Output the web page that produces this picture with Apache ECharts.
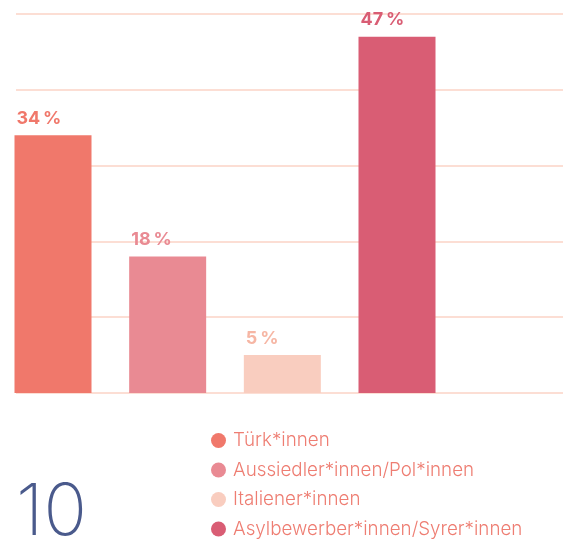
<!DOCTYPE html>
<html>
<head>
<meta charset="utf-8">
<script src="https://cdn.jsdelivr.net/npm/echarts@6/dist/echarts.min.js"></script>
<style>
  html, body { margin: 0; padding: 0; background: #fff; }
  #chart { width: 563px; height: 539px; }
</style>
</head>
<body>
<div id="chart"></div>
<script>
const categories = ['Türk*innen', 'Aussiedler*innen/Pol*innen', 'Italiener*innen', 'Asylbewerber*innen/Syrer*innen']
const values = [34, 18, 5, 47]
const colors = ['#f0786b', '#e98a93', '#f9cdbf', '#d95d74']
const labelColors = ['#f0786b', '#e98a93', '#f6b6a4', '#d95d74']
const yTicks = [0, 10, 20, 30, 40, 50]
const pageNumber = '10'

const chart = echarts.init(document.getElementById('chart'))

// each category is its own series so the legend shows all four
const series = categories.map((name, i) => ({
  name: name,
  type: 'bar',
  xAxisIndex: 1,
  yAxisIndex: 1,
  stack: 'all',
  barWidth: 77,
  itemStyle: { color: colors[i] },
  label: {
    show: true,
    position: [2, -26],
    formatter: p => p.value + '\u2009%',
    color: labelColors[i],
    fontFamily: 'Inter',
    fontWeight: 'bold',
    fontSize: 18
  },
  data: values.map((v, j) => (j === i ? v : '-'))
}))

const option = {
  animation: false,
  grid: [
    { left: 16, right: 0, top: 14, bottom: 146 },
    { left: 53, right: 166, top: 14, bottom: 146 }
  ],
  xAxis: [
    { gridIndex: 0, type: 'value', min: 0, max: 1, show: false },
    {
      gridIndex: 1,
      type: 'category',
      data: categories,
      boundaryGap: false,
      show: false
    }
  ],
  yAxis: [
    {
      gridIndex: 0,
      type: 'value',
      min: yTicks[0],
      max: yTicks[yTicks.length - 1],
      interval: 10,
      axisLabel: { show: false },
      axisLine: { show: false },
      axisTick: { show: false },
      splitLine: { lineStyle: { color: '#fbd3c6', width: 1.5 } }
    },
    {
      gridIndex: 1,
      type: 'value',
      min: yTicks[0],
      max: yTicks[yTicks.length - 1],
      show: false,
      splitLine: { show: false }
    }
  ],
  legend: {
    orient: 'vertical',
    left: 206,
    top: 426,
    height: 130,
    icon: 'circle',
    itemWidth: 15,
    itemHeight: 15,
    itemGap: 10.5,
    data: categories,
    textStyle: {
      color: '#ee7d72',
      fontFamily: 'Inter',
      fontWeight: 300,
      fontSize: 18.8,
      padding: [0, 0, 0, 2]
    }
  },
  graphic: [
    {
      type: 'text',
      left: 16,
      top: 477,
      style: {
        text: pageNumber,
        fill: '#4a5a8c',
        font: '200 72px Inter'
      }
    }
  ],
  series: series
}

chart.setOption(option)
</script>
</body>
</html>
